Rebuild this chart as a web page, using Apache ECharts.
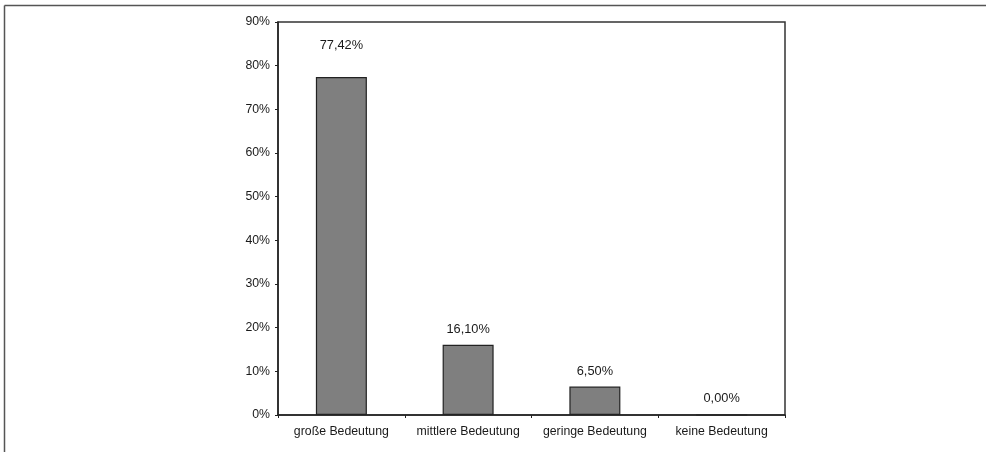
<!DOCTYPE html>
<html>
<head>
<meta charset="utf-8">
<script src="https://cdn.jsdelivr.net/npm/echarts@6/dist/echarts.min.js"></script>
<style>
  html, body { margin: 0; padding: 0; background: #fff; }
  #chart { width: 986px; height: 452px; }
</style>
</head>
<body>
<div id="chart"></div>
<script>
// Bedeutung categories and their shares in percent
const categories = ['große Bedeutung', 'mittlere Bedeutung', 'geringe Bedeutung', 'keine Bedeutung'];
const shares = [77.42, 16.10, 6.50, 0.00];
const yTicks = { min: 0, max: 90, interval: 10 };

const fmtPct = v => v.toFixed(2).replace('.', ',') + '%';
const fontFamily = '"Liberation Sans", Arial, sans-serif';

const chart = echarts.init(document.getElementById('chart'));
chart.setOption({
  animation: false,
  backgroundColor: '#ffffff',
  graphic: [
    { type: 'line', shape: { x1: 4.5, y1: 5.5, x2: 986, y2: 5.5 }, style: { stroke: '#555', lineWidth: 1.5 } },
    { type: 'line', shape: { x1: 4.5, y1: 5.5, x2: 4.5, y2: 452 }, style: { stroke: '#555', lineWidth: 1.5 } }
  ],
  grid: {
    left: 278, top: 22, width: 507, height: 393,
    show: true, borderColor: '#333', borderWidth: 1.5, backgroundColor: 'transparent'
  },
  xAxis: {
    type: 'category',
    data: categories,
    axisLine: { lineStyle: { color: '#222', width: 1.5 } },
    axisTick: { show: true, interval: 0, alignWithLabel: false, length: 3, lineStyle: { color: '#222' } },
    axisLabel: { interval: 0, hideOverlap: false, color: '#1a1a1a', fontFamily, fontSize: 12.3, margin: 11 }
  },
  yAxis: {
    type: 'value',
    min: yTicks.min, max: yTicks.max, interval: yTicks.interval,
    axisLine: { show: true, lineStyle: { color: '#222', width: 1.5 } },
    axisTick: { show: true, length: 3, lineStyle: { color: '#222' } },
    splitLine: { show: false },
    axisLabel: { color: '#1a1a1a', fontFamily, fontSize: 12.3, margin: 8, formatter: v => v + '%' }
  },
  series: [{
    type: 'bar',
    barWidth: 51,
    data: shares.map((v, i) => ({
      value: v,
      label: i === 0 ? { distance: 25 } : undefined
    })),
    itemStyle: { color: '#7f7f7f', borderColor: '#222', borderWidth: 1.2 },
    label: {
      show: true, position: 'top', distance: 9,
      color: '#1a1a1a', fontFamily, fontSize: 12.8,
      formatter: p => fmtPct(p.value)
    }
  }]
});
</script>
</body>
</html>
